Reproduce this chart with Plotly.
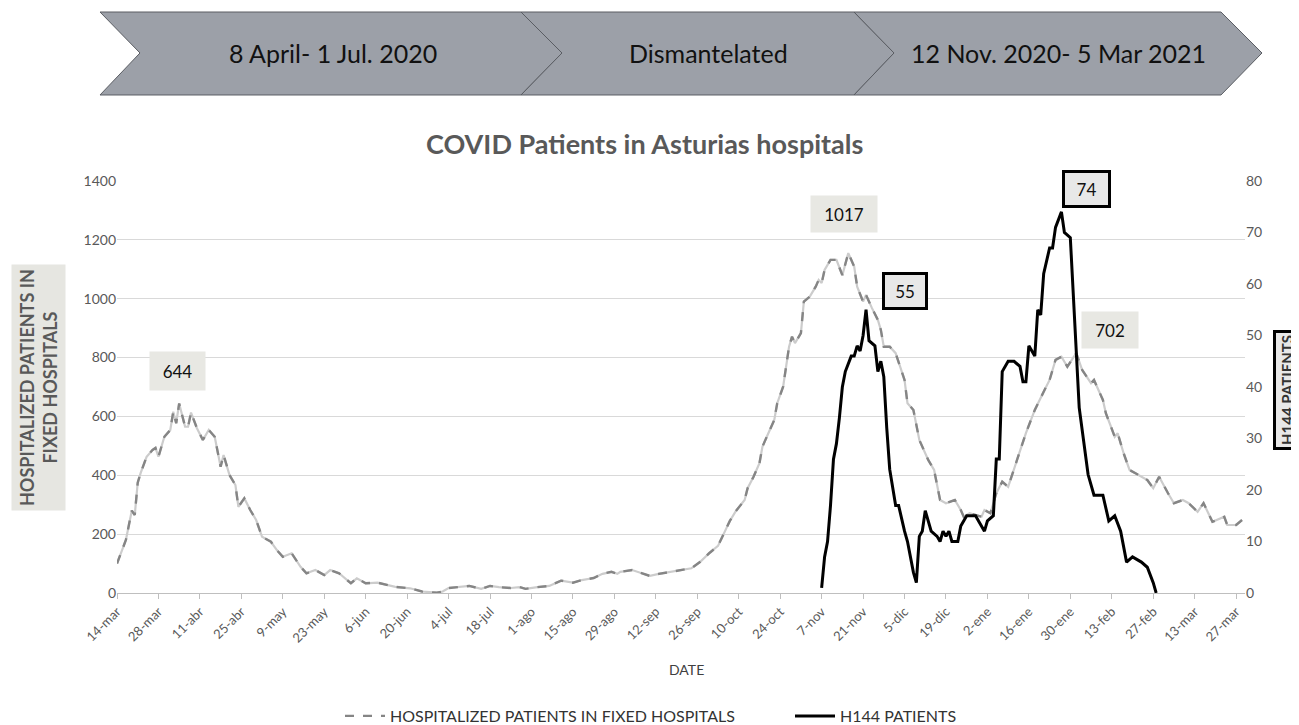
import plotly.graph_objects as go

# ---------------- DATA ----------------
hosp_dates = [
    "2020-03-14","2020-03-17","2020-03-19","2020-03-20","2020-03-21","2020-03-22","2020-03-24","2020-03-26",
    "2020-03-27","2020-03-28","2020-03-30","2020-04-01","2020-04-02","2020-04-03","2020-04-04","2020-04-06",
    "2020-04-07","2020-04-08","2020-04-10","2020-04-12","2020-04-14","2020-04-16","2020-04-18","2020-04-19",
    "2020-04-21","2020-04-23","2020-04-24","2020-04-26","2020-04-28","2020-04-30","2020-05-02","2020-05-05",
    "2020-05-07","2020-05-09","2020-05-12","2020-05-15","2020-05-17","2020-05-20","2020-05-23","2020-05-25",
    "2020-05-28","2020-06-01","2020-06-03","2020-06-06","2020-06-10","2020-06-13","2020-06-16","2020-06-21",
    "2020-06-25","2020-06-30","2020-07-02","2020-07-04","2020-07-08","2020-07-11","2020-07-15","2020-07-18",
    "2020-07-21","2020-07-25","2020-07-28","2020-07-30","2020-08-03","2020-08-07","2020-08-11","2020-08-15",
    "2020-08-18","2020-08-22","2020-08-25","2020-08-28","2020-08-30","2020-08-31","2020-09-04","2020-09-07",
    "2020-09-10","2020-09-13","2020-09-17","2020-09-20","2020-09-24","2020-09-27","2020-09-30","2020-10-03",
    "2020-10-05","2020-10-07","2020-10-09","2020-10-12","2020-10-13","2020-10-15","2020-10-17","2020-10-18",
    "2020-10-20","2020-10-22","2020-10-23","2020-10-25","2020-10-27","2020-10-28","2020-10-29","2020-10-31",
    "2020-11-01","2020-11-03","2020-11-05","2020-11-06","2020-11-07","2020-11-08","2020-11-10","2020-11-12",
    "2020-11-14","2020-11-16","2020-11-18","2020-11-19","2020-11-21","2020-11-22","2020-11-24","2020-11-26",
    "2020-11-27","2020-11-28","2020-11-30","2020-12-02","2020-12-05","2020-12-06","2020-12-08","2020-12-10",
    "2020-12-13","2020-12-15","2020-12-17","2020-12-19","2020-12-22","2020-12-24","2020-12-25","2020-12-27",
    "2020-12-31","2021-01-01","2021-01-03","2021-01-05","2021-01-07","2021-01-09","2021-01-12","2021-01-15",
    "2021-01-18","2021-01-20","2021-01-21","2021-01-23","2021-01-25","2021-01-27","2021-01-29","2021-02-01",
    "2021-02-03","2021-02-06","2021-02-07","2021-02-10","2021-02-11","2021-02-14","2021-02-15","2021-02-17",
    "2021-02-19","2021-02-21","2021-02-25","2021-02-27","2021-03-01","2021-03-04","2021-03-06","2021-03-09",
    "2021-03-11","2021-03-14","2021-03-16","2021-03-19","2021-03-23","2021-03-24","2021-03-27","2021-03-29",
]
hosp_values = [
    100, 180, 280, 265, 375, 408, 463, 486,
    493, 463, 531, 554, 616, 577, 644, 565,
    565, 613, 560, 520, 554, 531, 429, 469,
    401, 367, 293, 322, 282, 248, 191, 174,
    146, 123, 135, 89, 67, 78, 61, 78,
    67, 33, 50, 33, 35, 27, 21, 16,
    5, 1, 5, 17, 20, 24, 14, 24,
    20, 17, 20, 14, 20, 24, 42, 35,
    44, 51, 65, 72, 65, 72, 78, 69,
    58, 65, 72, 78, 84, 106, 135, 160,
    205, 245, 278, 316, 356, 395, 441, 497,
    543, 588, 645, 701, 837, 871, 849, 883,
    990, 1007, 1041, 1064, 1053, 1098, 1132, 1132,
    1080, 1155, 1109, 1041, 990, 1013, 968, 928,
    894, 837, 837, 815, 724, 645, 622, 520,
    452, 418, 316, 305, 316, 282, 259, 271,
    259, 282, 271, 339, 378, 361, 452, 543,
    622, 667, 684, 724, 792, 803, 769, 815,
    758, 713, 724, 656, 611, 531, 543, 475,
    418, 407, 384, 356, 395, 339, 305, 316,
    305, 276, 305, 242, 259, 231, 231, 248,
]

h144_dates = [
    "2020-11-07","2020-11-08","2020-11-09","2020-11-10","2020-11-11","2020-11-12","2020-11-13","2020-11-14",
    "2020-11-15","2020-11-17","2020-11-18","2020-11-19","2020-11-20","2020-11-21","2020-11-22","2020-11-23",
    "2020-11-25","2020-11-26","2020-11-27","2020-11-28","2020-11-29","2020-11-30","2020-12-02","2020-12-03",
    "2020-12-05","2020-12-06","2020-12-08","2020-12-09","2020-12-10","2020-12-11","2020-12-12","2020-12-14",
    "2020-12-16","2020-12-17","2020-12-18","2020-12-19","2020-12-20","2020-12-21","2020-12-23","2020-12-24",
    "2020-12-26","2020-12-27","2020-12-29","2020-12-30","2021-01-01","2021-01-02","2021-01-04","2021-01-05",
    "2021-01-06","2021-01-07","2021-01-09","2021-01-11","2021-01-13","2021-01-14","2021-01-15","2021-01-16",
    "2021-01-18","2021-01-19","2021-01-20","2021-01-21","2021-01-23","2021-01-24","2021-01-25","2021-01-27",
    "2021-01-28","2021-01-30","2021-01-31","2021-02-01","2021-02-02","2021-02-05","2021-02-07","2021-02-10",
    "2021-02-12","2021-02-14","2021-02-16","2021-02-18","2021-02-20","2021-02-23","2021-02-25","2021-02-27",
    "2021-02-28",
]
h144_values = [
    1, 7, 10, 17, 26, 29, 34, 40,
    43, 46, 46, 48, 47, 50, 55, 49,
    48, 43, 45, 42, 32, 24, 17, 17,
    12, 10, 4, 2, 11, 12, 16, 12,
    11, 10, 12, 11, 12, 10, 10, 13,
    15, 15, 15, 14, 12, 14, 15, 26,
    26, 43, 45, 45, 44, 41, 41, 48,
    46, 55, 54, 62, 67, 67, 71, 74,
    70, 69, 57, 45, 36, 23, 19, 19,
    14, 15, 12, 6, 7, 6, 5, 2,
    0,
]

tick_dates = ["2020-03-14","2020-03-28","2020-04-11","2020-04-25","2020-05-09","2020-05-23","2020-06-06",
              "2020-06-20","2020-07-04","2020-07-18","2020-08-01","2020-08-15","2020-08-29","2020-09-12",
              "2020-09-26","2020-10-10","2020-10-24","2020-11-07","2020-11-21","2020-12-05","2020-12-19",
              "2021-01-02","2021-01-16","2021-01-30","2021-02-13","2021-02-27","2021-03-13","2021-03-27"]
tick_labels = ["14-mar","28-mar","11-abr","25-abr","9-may","23-may","6-jun","20-jun","4-jul","18-jul",
               "1-ago","15-ago","29-ago","12-sep","26-sep","10-oct","24-oct","7-nov","21-nov","5-dic",
               "19-dic","2-ene","16-ene","30-ene","13-feb","27-feb","13-mar","27-mar"]

banner_labels = ["8 April- 1 Jul. 2020", "Dismantelated", "12 Nov. 2020- 5 Mar 2021"]
peak_labels = ["644", "1017", "702"]
h144_peak_labels = ["55", "74"]

title_text = "COVID Patients in Asturias hospitals"
name_hosp = "HOSPITALIZED PATIENTS IN FIXED HOSPITALS"
name_h144 = "H144 PATIENTS"

# ---------------- LAYOUT HELPERS ----------------
# page body adds an 8px offset; figure is sized so that it fits in the window
OFF = 8
W, H = 1299 - OFF, 725 - OFF
L, R, T, B = 117, 1245, 181, 593   # plot area in window pixels
FONT = "Lato"


def px(x):
    return (x - L) / (R - L)


def py(y):
    return (B - y) / (B - T)


def note(text, cx, cy, **kw):
    d = dict(text=text, x=px(cx), y=py(cy), xref="paper", yref="paper", showarrow=False,
             xanchor="center", yanchor="middle")
    d.update(kw)
    return d


fig = go.Figure()

fig.add_trace(go.Scatter(x=hosp_dates, y=hosp_values, mode="lines",
                         line=dict(color="#cccccc", width=2.2), showlegend=False, hoverinfo="skip"))
fig.add_trace(go.Scatter(x=hosp_dates, y=hosp_values, mode="lines", name=name_hosp,
                         line=dict(color="#858585", width=2.4, dash="dash")))
fig.add_trace(go.Scatter(x=h144_dates, y=h144_values, mode="lines", name=name_h144, yaxis="y2",
                         line=dict(color="#000000", width=3)))

shapes = []
# banner chevrons
chev = [(100, 521, 140, 562), (521, 854, 562, 894), (854, 1221, 894, 1262)]
ytop, ymid, ybot = 12, 53, 95
for (x0, x1, notch, tip) in chev:
    pts = [(x0, ytop), (x1, ytop), (tip, ymid), (x1, ybot), (x0, ybot), (notch, ymid)]
    path = "M " + " L ".join(f"{px(a):.5f},{py(b):.5f}" for a, b in pts) + " Z"
    shapes.append(dict(type="path", xref="paper", yref="paper", path=path,
                       fillcolor="#9ca0a8", line=dict(color="#5a5d63", width=1)))

annotations = []
for text, cx in zip(banner_labels, [333, 708, 1058]):
    annotations.append(note(text, cx, 53, font=dict(family=FONT, size=25, color="#111111")))

annotations.append(note("<b>" + title_text + "</b>", 644, 143,
                        font=dict(family=FONT, size=27, color="#595959")))

annotations.append(note("DATE", 686, 669, font=dict(family=FONT, size=14, color="#404040")))

annotations.append(note("<b>HOSPITALIZED PATIENTS IN<br>FIXED HOSPITALS</b>", 38, 388, textangle=-90,
                        font=dict(family=FONT, size=18, color="#595959"),
                        bgcolor="#e6e6e1", borderpad=4))

annotations.append(note("<b>H144 PATIENTS</b>", 1287, 390, textangle=-90,
                        font=dict(family=FONT, size=15, color="#333333"),
                        bgcolor="#e8e8e8", bordercolor="#000000", borderwidth=3, borderpad=2))

for text, (cx, cy), (w, h) in zip(peak_labels, [(177, 371), (844, 214), (1110, 330)],
                                  [(47, 30), (58, 28), (48, 28)]):
    annotations.append(note(text, cx, cy, font=dict(family=FONT, size=17, color="#111111"),
                            bgcolor="#e8e8e3", borderpad=4, width=w, height=h))

for text, (cx, cy), (w, h) in zip(h144_peak_labels, [(905, 291), (1086, 189)], [(34, 26), (37, 26)]):
    annotations.append(note(text, cx, cy, font=dict(family=FONT, size=17, color="#111111"),
                            bgcolor="#e8e8e8", bordercolor="#000000", borderwidth=3, borderpad=3,
                            width=w, height=h))

fig.update_layout(
    width=W, height=H,
    margin=dict(l=L - OFF, r=(W + OFF) - R, t=T - OFF, b=(H + OFF) - B, autoexpand=False),
    paper_bgcolor="white", plot_bgcolor="white",
    font=dict(family=FONT, size=12, color="#595959"),
    showlegend=True,
    legend=dict(orientation="h", x=px(790), xanchor="center", y=py(716), yanchor="middle",
                font=dict(family=FONT, size=16, color="#333333"), itemwidth=40,
                entrywidth=395, entrywidthmode="pixels",
                bgcolor="rgba(0,0,0,0)"),
    xaxis=dict(type="date", range=["2020-03-14", "2021-03-30"], tickvals=tick_dates, ticktext=tick_labels,
               tickangle=-45, showgrid=False, showline=True, linecolor="#bfbfbf", linewidth=1,
               ticks="outside", ticklen=5, tickcolor="#bfbfbf", tickfont=dict(size=13, color="#595959"),
               zeroline=False, automargin=False),
    yaxis=dict(range=[0, 1400], dtick=200, showgrid=True, gridcolor="#d9d9d9", gridwidth=1,
               zeroline=False, showline=False, tickfont=dict(size=14, color="#595959"), ticks="",
               automargin=False),
    yaxis2=dict(range=[0, 80], dtick=10, overlaying="y", side="right", showgrid=False, zeroline=False,
                showline=False, tickfont=dict(size=14, color="#595959"), automargin=False),
    shapes=shapes,
    annotations=annotations,
)

fig.write_html("out.html")
